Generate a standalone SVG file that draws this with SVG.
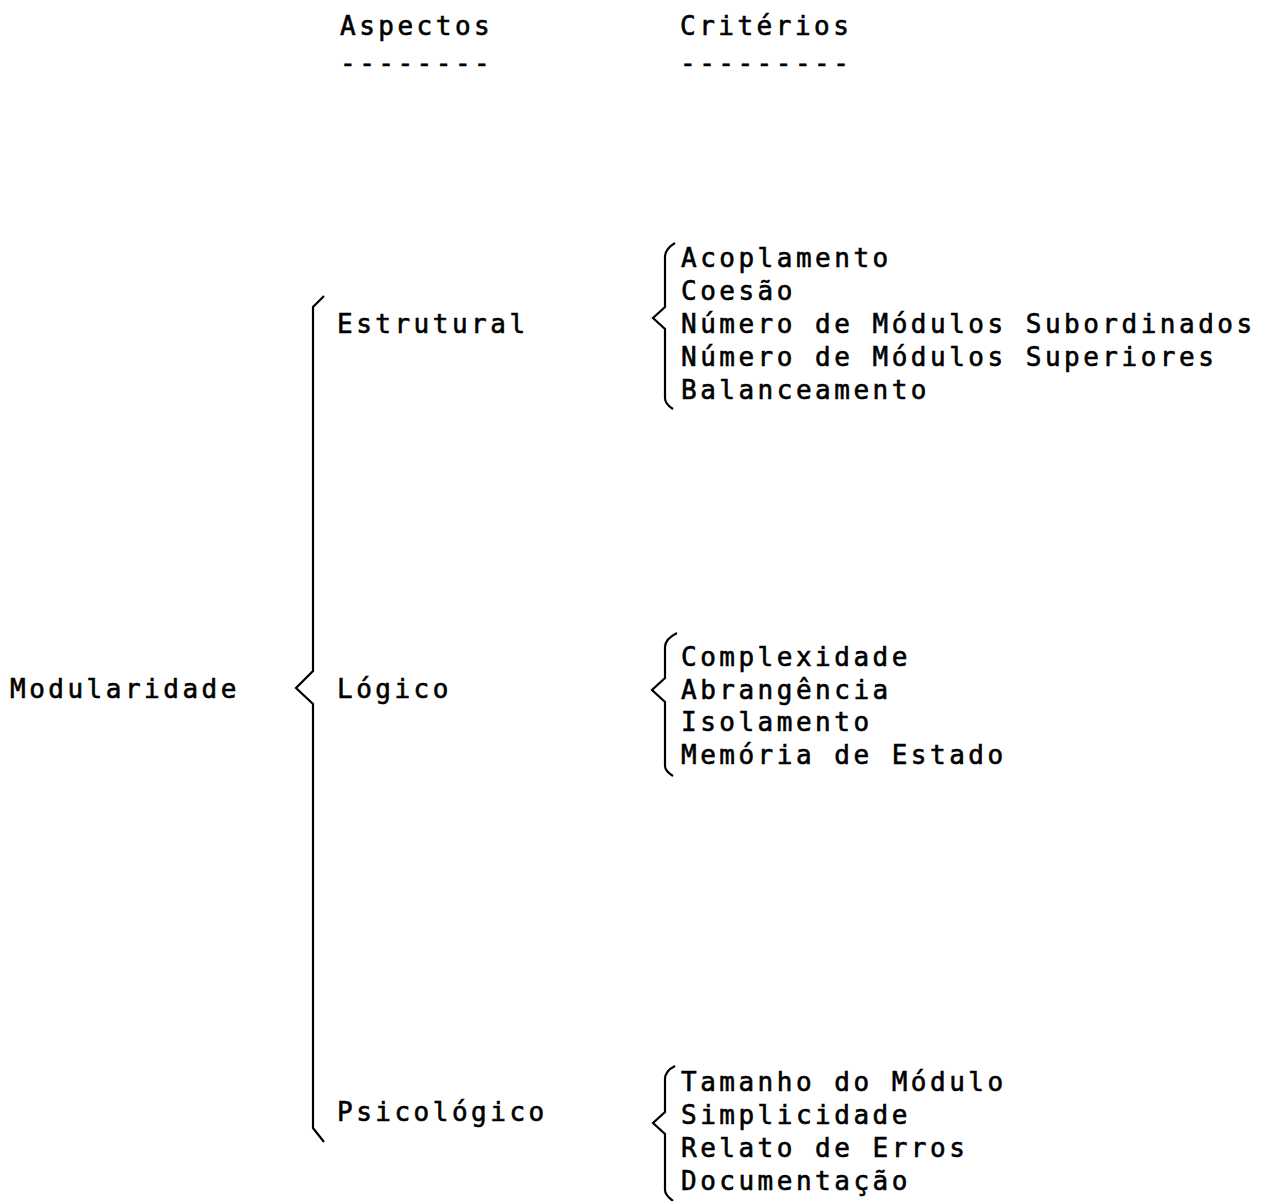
<svg xmlns="http://www.w3.org/2000/svg" width="1266" height="1201" viewBox="0 0 1266 1201">
  <style>
    text { font-family: "DejaVu Sans Mono", "Liberation Mono", monospace; font-size: 26px; letter-spacing: 3.5px; fill: #000; stroke: #000; stroke-width: 0.6px; }
    .brace { fill: none; stroke: #000; stroke-width: 2.2; stroke-linejoin: miter; }
  </style>
  <rect width="1266" height="1201" fill="#fff"/>

  <!-- column headings -->
  <g id="headings">
    <text x="340" y="35">Aspectos</text>
    <text x="340" y="72">--------</text>
    <text x="680" y="35">Critérios</text>
    <text x="680" y="72">---------</text>
  </g>

  <!-- root -->
  <g id="modularidade">
    <text x="10" y="698">Modularidade</text>
  </g>

  <!-- braces -->
  <g id="connectors">
    <path class="brace" d="M324 296 L313 307 L313 671 L296 688 L313 704 L313 1128 L324 1142"/>
    <path class="brace" d="M675 243 Q665 249 665 257 L665 307 L653 318 L665 329 L665 398 Q665 404 673 409"/>
    <path class="brace" d="M677 633 Q665 639 665 647 L665 678 L652 690 L665 702 L665 766 Q665 771 673 776"/>
    <path class="brace" d="M675 1066 Q665 1071 665 1079 L665 1112 L653 1123 L665 1134 L665 1190 Q665 1195 673 1201"/>
  </g>

  <!-- aspects -->
  <g id="estrutural">
    <text x="337" y="333">Estrutural</text>
  </g>
  <g id="logico">
    <text x="337" y="698">Lógico</text>
  </g>
  <g id="psicologico">
    <text x="337" y="1121">Psicológico</text>
  </g>

  <!-- criteria -->
  <g id="criterios-estrutural">
    <text x="681" y="267">Acoplamento</text>
    <text x="681" y="300">Coesão</text>
    <text x="681" y="333">Número de Módulos Subordinados</text>
    <text x="681" y="366">Número de Módulos Superiores</text>
    <text x="681" y="399">Balanceamento</text>
  </g>
  <g id="criterios-logico">
    <text x="681" y="666">Complexidade</text>
    <text x="681" y="699">Abrangência</text>
    <text x="681" y="731">Isolamento</text>
    <text x="681" y="764">Memória de Estado</text>
  </g>
  <g id="criterios-psicologico">
    <text x="681" y="1091">Tamanho do Módulo</text>
    <text x="681" y="1124">Simplicidade</text>
    <text x="681" y="1157">Relato de Erros</text>
    <text x="681" y="1190">Documentação</text>
  </g>
</svg>
